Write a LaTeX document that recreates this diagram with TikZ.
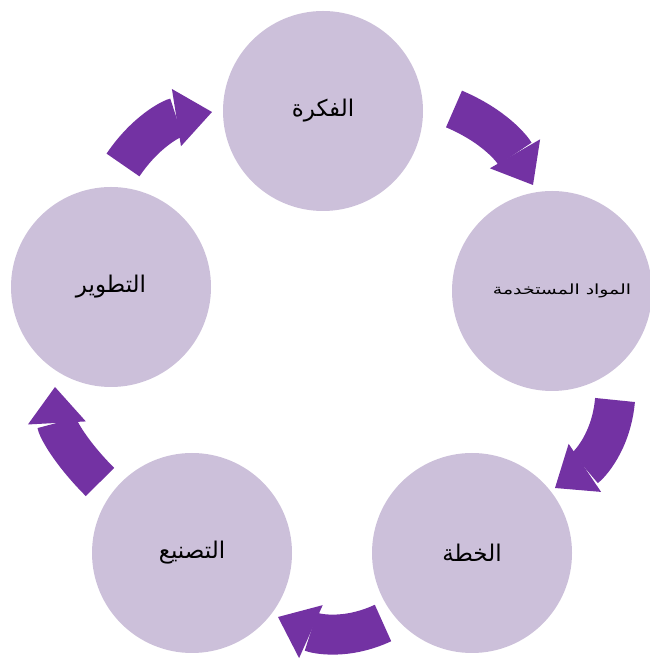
\documentclass[tikz,border=0pt]{standalone}
\usepackage{fontspec}
\usepackage{tikz}
\usetikzlibrary{arrows.meta}
\newfontfamily\arabicfont[Script=Arabic]{DejaVu Sans}
\TeXXeTstate=1
\definecolor{stagefill}{HTML}{CCC0DA}
\definecolor{cyclepurple}{HTML}{7332A3}

\begin{document}
\begin{tikzpicture}[x=1pt, y=1pt,
    stage/.style={circle, fill=stagefill, minimum size=200pt, inner sep=0pt,
                  outer sep=0pt, font=\arabicfont\fontsize{23}{27}\selectfont},
    cyc/.style={draw=cyclepurple, line width=40pt,
                -{Triangle[length=36pt, width=58pt, line width=0pt]}}
]
\useasboundingbox (0,0) rectangle (650,661);
\node[stage] (idea) at (323,550) {\beginR الفكرة\endR};
\node[stage] (mat) at (552,370) {\hspace{20pt}\fontsize{14}{17}\selectfont\scalebox{1.35}[1]{\beginR المواد المستخدمة\endR}};
\node[stage] (plan) at (472,108) {\beginR الخطة\endR};
\node[stage] (fab) at (192,108) {\beginR التصنيع\endR};
\node[stage] (dev) at (111,374) {\beginR التطوير\endR};
% ends of the cycle arrows, next to the stages
\coordinate (ideaout) at ([shift={(131,2)}]idea.center);
\coordinate (matin) at ([shift={(-19,106)}]mat.center);
\coordinate (matout) at ([shift={(63,-109)}]mat.center);
\coordinate (planin) at ([shift={(83,65)}]plan.center);
\coordinate (planout) at ([shift={(-89,-70)}]plan.center);
\coordinate (fabin) at ([shift={(86,-64)}]fab.center);
\coordinate (fabout) at ([shift={(-92,71)}]fab.center);
\coordinate (devin) at ([shift={(-56,-100)}]dev.center);
\coordinate (devout) at ([shift={(12,122)}]dev.center);
\coordinate (ideain) at ([shift={(-111,-1)}]idea.center);
\draw[cyc] (ideaout) to[out=-23, in=120] (matin);
\draw[cyc] (matout) to[out=-95, in=34] (planin);
\draw[cyc] (planout) to[out=-155, in=-24] (fabin);
\draw[cyc] (fabout) to[out=135, in=-87] (devin);
\draw[cyc] (devout) to[out=56, in=-171] (ideain);
\end{tikzpicture}
\end{document}
